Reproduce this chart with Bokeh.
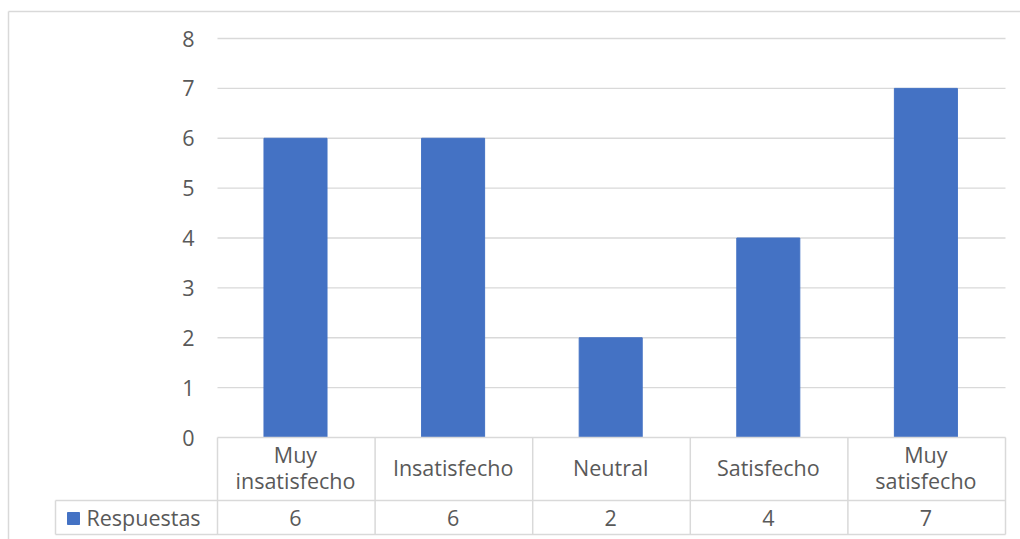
from bokeh.plotting import figure
from bokeh.models import Range1d
from bokeh.core.properties import value
from bokeh.embed import file_html
from bokeh.resources import INLINE

# ---- data ----
categories = ["Muy\ninsatisfecho", "Insatisfecho", "Neutral", "Satisfecho", "Muy\nsatisfecho"]
respuestas = [6, 6, 2, 4, 7]
series_name = "Respuestas"
y_ticks = [0, 1, 2, 3, 4, 5, 6, 7, 8]

# ---- layout constants (pixels) ----
W, H = 1020, 539
PX0 = 295.0      # pixel x of first category centre
COLW = 157.6     # pixel width of a category column
Y0PX = 437.0     # pixel y of value 0
UNIT = 49.875    # pixels per unit of value

def dx(px):
    return (px - PX0) / COLW

def dy(py):
    return (Y0PX - py) / UNIT

FONT = value("Open Sans")
TXT = "#595959"
LINE = "#d9d9d9"
BAR = "#4472C4"
FS = "21.5px"

p = figure(width=W, height=H, min_border=0, x_axis_type=None, y_axis_type=None,
           toolbar_location=None, output_backend="svg",
           x_range=Range1d(dx(0), dx(W)), y_range=Range1d(dy(H), dy(0)))
p.outline_line_color = None
p.background_fill_color = "white"
p.border_fill_color = "white"

n = len(categories)
xs = list(range(n))
left_edge = dx(217)
right_edge = dx(1005)

# outer chart border (top and left)
p.segment(x0=[dx(8), dx(8)], y0=[dy(11), dy(11)], x1=[dx(W), dx(8)], y1=[dy(11), dy(H)],
          line_color=LINE, line_width=1.5)

# gridlines
grid_vals = [t for t in y_ticks if t > 0]
p.segment(x0=[left_edge] * len(grid_vals), y0=grid_vals,
          x1=[right_edge] * len(grid_vals), y1=grid_vals,
          line_color=LINE, line_width=1.3)

# bars
p.vbar(x=xs, top=respuestas, bottom=0, width=0.4, fill_color=BAR, line_color=BAR)

# y tick labels
p.text(x=[dx(194)] * len(y_ticks), y=y_ticks, text=[str(t) for t in y_ticks],
       text_align="right", text_baseline="middle", text_font=FONT,
       text_font_size=FS, text_color=TXT)

# ---- data table ----
row1_bot = dy(500)
row2_bot = dy(534)
legend_left = dx(55)

# horizontal lines
p.segment(x0=[left_edge, legend_left, legend_left],
          y0=[0, row1_bot, row2_bot],
          x1=[right_edge, right_edge, right_edge],
          y1=[0, row1_bot, row2_bot],
          line_color=LINE, line_width=1.5)
# vertical lines
vx = [left_edge + (right_edge - left_edge) * i / n for i in range(n + 1)]
p.segment(x0=vx, y0=[0] * len(vx), x1=vx, y1=[row2_bot] * len(vx),
          line_color=LINE, line_width=1.5)
p.segment(x0=[legend_left], y0=[row1_bot], x1=[legend_left], y1=[row2_bot],
          line_color=LINE, line_width=1.5)

# category labels
p.text(x=xs, y=[dy(467)] * n, text=categories, text_align="center",
       text_baseline="middle", text_font=FONT, text_font_size=FS,
       text_color=TXT, text_line_height=0.9)

# values row
p.text(x=xs, y=[dy(517)] * n, text=[str(v) for v in respuestas], text_align="center",
       text_baseline="middle", text_font=FONT, text_font_size=FS, text_color=TXT)

# legend key and series name
p.rect(x=[dx(73)], y=[dy(518)], width=12, height=12, width_units="screen",
       height_units="screen", fill_color=BAR, line_color=BAR)
p.text(x=[dx(86)], y=[dy(517)], text=[series_name], text_align="left",
       text_baseline="middle", text_font=FONT, text_font_size=FS, text_color=TXT)

open("out.html", "w").write(file_html(p, INLINE))
